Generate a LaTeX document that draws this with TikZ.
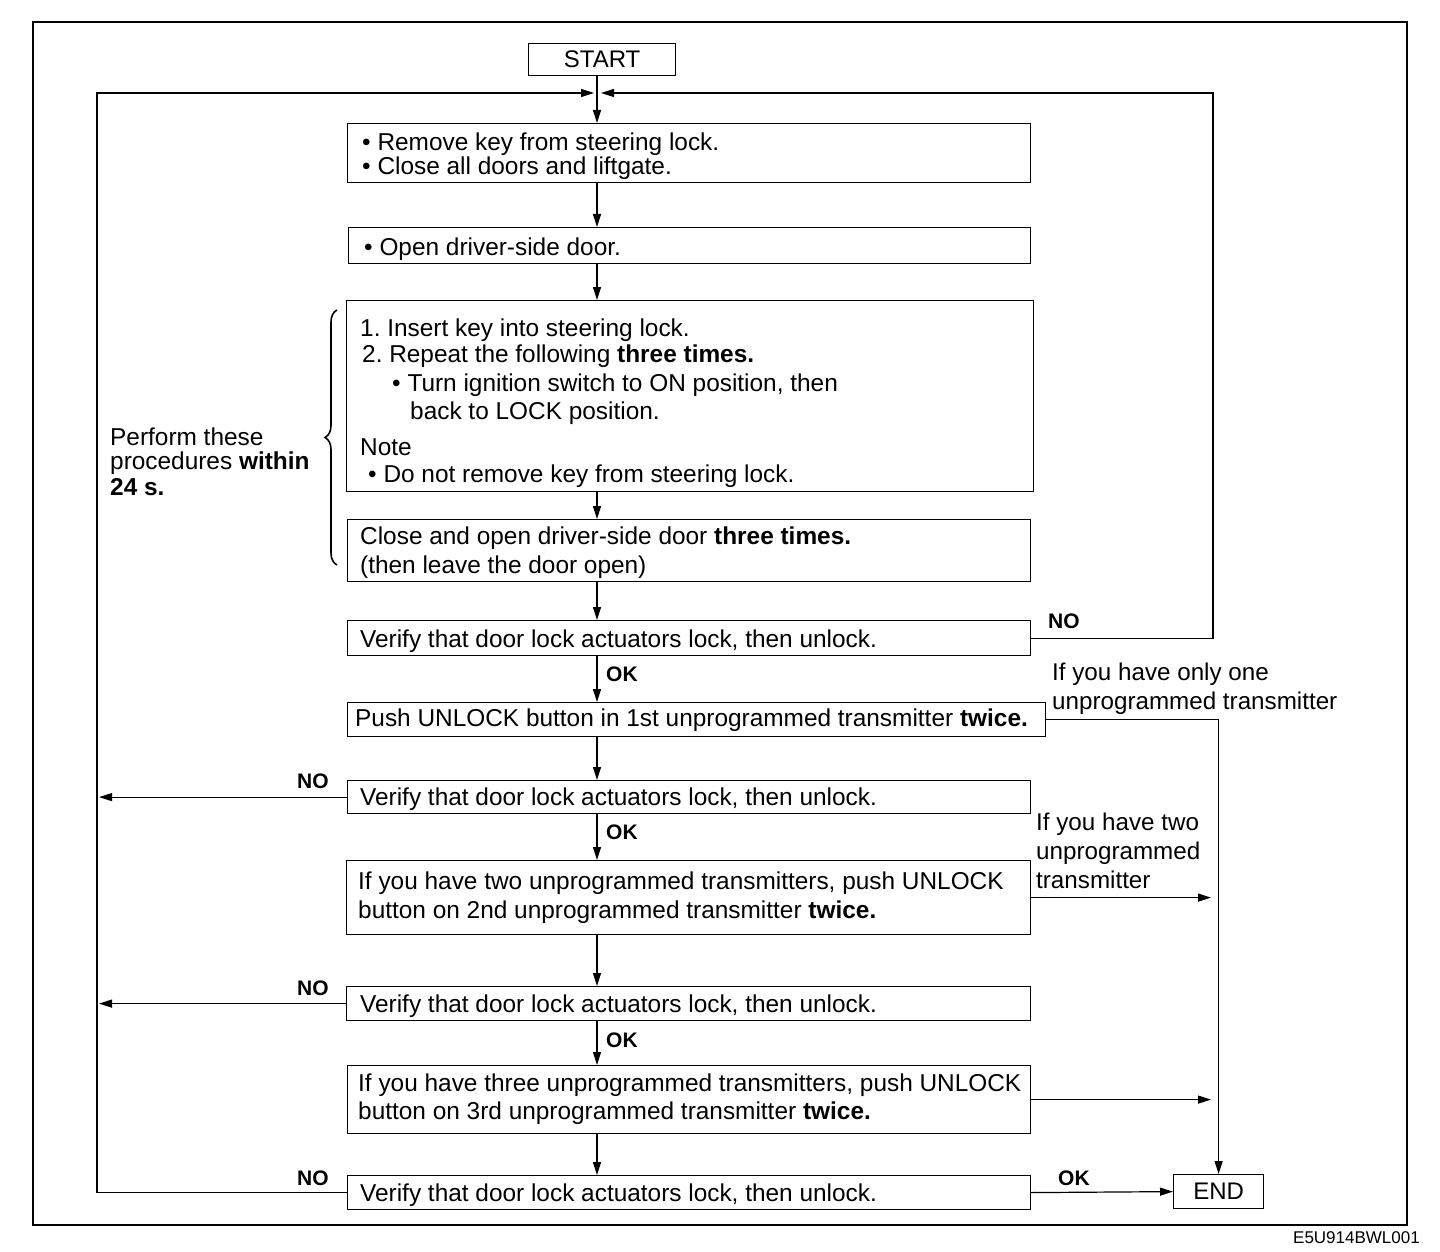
\documentclass[tikz,border=0pt]{standalone}
\usepackage{fontspec}
\setmainfont{Liberation Sans}
\usetikzlibrary{arrows.meta,decorations.pathreplacing}
\begin{document}
\frenchspacing
\begin{tikzpicture}[x=1pt,y=-1pt,
  box/.style={draw, line width=1.2pt, inner sep=0pt, anchor=north west},
  txt/.style={anchor=west, inner sep=0pt, font=\fontsize{24.4}{26}\selectfont, text height=20pt, text depth=2pt},
  side/.style={anchor=west, inner sep=0pt, font=\fontsize{24.2}{26}\selectfont, text height=20pt, text depth=2pt},
  lbl/.style={anchor=west, inner sep=0pt, font=\fontsize{21}{24}\selectfont\bfseries, text height=15pt, text depth=0pt},
  ln/.style={line width=1.2pt},
  arr/.style={line width=1.2pt, -{Triangle[length=13pt,width=8pt]}}]
\useasboundingbox (0,0) rectangle (1440,1252);
% frame
\draw[ln] (33,22) rectangle (1407,1225);
% boxes
\node[box, minimum width=147pt, minimum height=32pt, font=\fontsize{24}{26}\selectfont] (start) at (528,43) {START};
\node[box, minimum width=683pt, minimum height=59pt] (b1) at (347,123) {};
\node[box, minimum width=682pt, minimum height=36pt] (b2) at (348,227) {};
\node[box, minimum width=687pt, minimum height=191pt] (b3) at (346,300) {};
\node[box, minimum width=683pt, minimum height=62pt] (b4) at (347,519) {};
\node[box, minimum width=683pt, minimum height=35pt] (b5) at (347,620) {};
\node[box, minimum width=698pt, minimum height=34pt] (b6) at (347,702) {};
\node[box, minimum width=683pt, minimum height=33pt] (b7) at (347,780) {};
\node[box, minimum width=684pt, minimum height=74pt] (b8) at (346,860) {};
\node[box, minimum width=684pt, minimum height=34pt] (b9) at (346,986) {};
\node[box, minimum width=683pt, minimum height=68pt] (b10) at (347,1065) {};
\node[box, minimum width=683pt, minimum height=34pt] (b11) at (347,1175) {};
\node[box, minimum width=90pt, minimum height=34pt, font=\fontsize{24}{26}\selectfont] (end) at (1173,1174) {END};
% box texts
\node[txt] (t1a) at (362,142) {• Remove key from steering lock.};
\node[txt] (t1b) at (362,166) {• Close all doors and liftgate.};
\node[txt] (t2) at (364,246) {• Open driver-side door.};
\node[txt] (t3a) at (360,327) {1. Insert key into steering lock.};
\node[txt] (t3b) at (362,353) {2. Repeat the following \textbf{three times.}};
\node[txt] (t3c) at (392,382) {• Turn ignition switch to ON position, then};
\node[txt] (t3d) at (410,410) {back to LOCK position.};
\node[txt] (t3e) at (360,446) {Note};
\node[txt] (t3f) at (368,473) {• Do not remove key from steering lock.};
\node[txt] (t4a) at (360,535) {Close and open driver-side door \textbf{three times.}};
\node[txt] (t4b) at (360,564) {(then leave the door open)};
\node[txt] (t5) at (360,638) {Verify that door lock actuators lock, then unlock.};
\node[txt] (t6) at (355,717) {Push UNLOCK button in 1st unprogrammed transmitter \textbf{twice.}};
\node[txt] (t7) at (360,796) {Verify that door lock actuators lock, then unlock.};
\node[txt] (t8a) at (358,880) {If you have two unprogrammed transmitters, push UNLOCK};
\node[txt] (t8b) at (358,909) {button on 2nd unprogrammed transmitter \textbf{twice.}};
\node[txt] (t9) at (360,1003) {Verify that door lock actuators lock, then unlock.};
\node[txt] (t10a) at (358,1082) {If you have three unprogrammed transmitters, push UNLOCK};
\node[txt] (t10b) at (358,1110) {button on 3rd unprogrammed transmitter \textbf{twice.}};
\node[txt] (t11) at (360,1192) {Verify that door lock actuators lock, then unlock.};
% side texts
\node[txt] (p1) at (110,436) {Perform these};
\node[txt] (p2) at (110,460) {procedures \textbf{within}};
\node[txt] (p3) at (110,486) {\textbf{24 s.}};
\node[side] (s1a) at (1052,671) {If you have only one};
\node[side] (s1b) at (1052,700) {unprogrammed transmitter};
\node[side] (s2a) at (1036,821) {If you have two};
\node[side] (s2b) at (1036,850) {unprogrammed};
\node[side] (s2c) at (1036,879) {transmitter};
% labels
\node[lbl] (no5) at (1048,621) {NO};
\node[lbl] (ok5) at (606,674) {OK};
\node[lbl] (no7) at (297,781) {NO};
\node[lbl] (ok7) at (606,832) {OK};
\node[lbl] (no9) at (297,988) {NO};
\node[lbl] (ok9) at (606,1040) {OK};
\node[lbl] (no11) at (297,1178) {NO};
\node[lbl] (ok11) at (1058,1178) {OK};
\node[anchor=east, inner sep=0pt, font=\fontsize{17}{19}\selectfont] (code) at (1420,1238) {E5U914BWL001};
% brace
\draw[line width=1.6pt, decorate, decoration={brace, amplitude=12pt}] (337,565) -- (337,310);
% coordinates
\coordinate (sp) at (597,0);
\coordinate (lc) at (97,93);
\coordinate (jl) at (594,93);
\coordinate (rc) at (1213,93);
\coordinate (jr) at (601,93);
\coordinate (la) at (99,0);
\coordinate (ra) at (1211,0);
% main flow
\draw[arr] (start.south -| sp) -- (b1.north -| sp);
\draw[arr] (b1.south -| sp) -- (b2.north -| sp);
\draw[arr] (b2.south -| sp) -- (b3.north -| sp);
\draw[arr] (b3.south -| sp) -- (b4.north -| sp);
\draw[arr] (b4.south -| sp) -- (b5.north -| sp);
\draw[arr] (b5.south -| sp) -- (b6.north -| sp);
\draw[arr] (b6.south -| sp) -- (b7.north -| sp);
\draw[arr] (b7.south -| sp) -- (b8.north -| sp);
\draw[arr] (b8.south -| sp) -- (b9.north -| sp);
\draw[arr] (b9.south -| sp) -- (b10.north -| sp);
\draw[arr] (b10.south -| sp) -- (b11.north -| sp);
% loops
\draw[arr] (b11.west) -| (lc) -- (jl);
\draw[arr] (b5.east) -| (rc) -- (jr);
\draw[arr] (b7.west) -- (b7.west -| la);
\draw[arr] (b9.west) -- (b9.west -| la);
\draw[arr] (b6.east) -| (end.north);
\draw[arr] (b8.east) -- (b8.east -| ra);
\draw[arr] (b10.east) -- (b10.east -| ra);
\draw[arr] (b11.east) -- (end.west);
\end{tikzpicture}
\end{document}
